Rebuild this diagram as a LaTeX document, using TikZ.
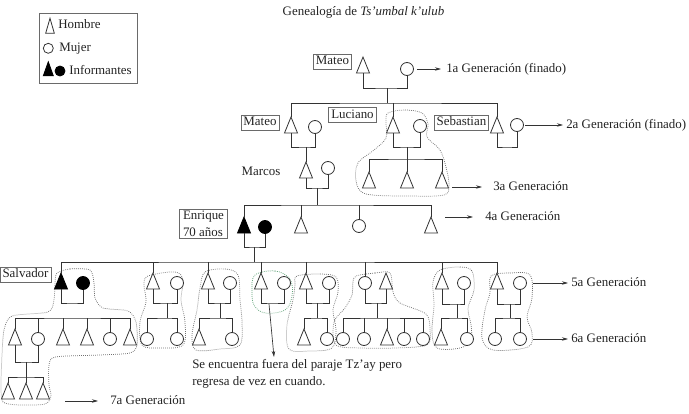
\documentclass[tikz,border=0pt]{standalone}
\usepackage{fontspec}
\setmainfont{Liberation Serif}
\usetikzlibrary{arrows.meta}
\makeatletter
\pgfdeclareshape{tri}{%
  \inheritsavedanchors[from=rectangle]%
  \inheritanchorborder[from=rectangle]%
  \inheritanchor[from=rectangle]{center}%
  \inheritanchor[from=rectangle]{north}%
  \inheritanchor[from=rectangle]{south}%
  \inheritanchor[from=rectangle]{east}%
  \inheritanchor[from=rectangle]{west}%
  \inheritanchor[from=rectangle]{north east}%
  \inheritanchor[from=rectangle]{north west}%
  \inheritanchor[from=rectangle]{south east}%
  \inheritanchor[from=rectangle]{south west}%
  \backgroundpath{%
    \southwest \edef\tri@xa{\the\pgf@x}\edef\tri@ya{\the\pgf@y}%
    \northeast \edef\tri@xb{\the\pgf@x}\edef\tri@yb{\the\pgf@y}%
    \pgf@xc=\tri@xa \advance\pgf@xc by \tri@xb \pgf@xc=.5\pgf@xc
    \edef\tri@xc{\the\pgf@xc}%
    \pgfpathmoveto{\pgfqpoint{\tri@xa}{\tri@ya}}%
    \pgfpathlineto{\pgfqpoint{\tri@xb}{\tri@ya}}%
    \pgfpathlineto{\pgfqpoint{\tri@xc}{\tri@yb}}%
    \pgfpathclose
  }%
}
\makeatother
\definecolor{linec}{HTML}{333333}
\definecolor{textc}{HTML}{222222}
\definecolor{boxc}{HTML}{6A6A6A}
\definecolor{dotc}{HTML}{707070}
\definecolor{greenc}{HTML}{5FA277}
\tikzset{
  ln/.style={draw=linec, line width=0.6pt},
  man/.style={shape=tri, draw=linec, line width=0.6pt, fill=white, inner sep=0pt, outer sep=0pt, minimum width=9.75pt, minimum height=12pt},
  woman/.style={shape=circle, draw=linec, line width=0.6pt, fill=white, inner sep=0pt, outer sep=0pt, minimum size=9.75pt},
  infm/.style={fill=black, draw=black},
  namebox/.style={draw=boxc, line width=0.5pt, inner xsep=1.9pt, inner ysep=0pt, minimum height=11.25pt, text height=7pt, text depth=2pt, text=textc, font=\fontsize{9.7}{12}\selectfont},
  lbl/.style={inner sep=0pt, text=textc, font=\fontsize{9.7}{12}\selectfont, text height=7pt, text depth=2pt},
  notetext/.style={inner sep=0pt, text=textc, font=\fontsize{9.7}{12.75}\selectfont, align=left},
  blob/.style={draw=dotc, line width=0.55pt, dash pattern=on 0.6pt off 0.9pt},
  gblob/.style={blob, draw=greenc},
  arr/.style={draw=linec, line width=0.5pt, -{Stealth[length=4.5pt,width=2.6pt]}},
}
\begin{document}
\begin{tikzpicture}[x=0.75pt, y=-0.75pt]
\useasboundingbox (0,0) rectangle (689,414);

% ---------- dotted groupings ----------
\draw[blob] plot[smooth cycle, tension=0.55] coordinates {(388,113) (405,110) (422,113) (428,124) (427,137) (440,150) (446,167) (449,185) (444,195) (410,196) (366,194) (356,181) (358,163) (374,150) (386,138) (386,122)};
\draw[blob] plot[smooth cycle, tension=0.45] coordinates {(57,273) (70,269) (90,270) (94,283) (95,298) (103,308) (128,311) (136,322) (137,345) (130,353) (100,355) (55,357) (49,366) (49,385) (51,396) (45,404) (20,405) (3,402) (1,385) (2,355) (4,330) (12,316) (48,312) (54,300) (55,283)};
\draw[blob] plot[smooth cycle, tension=0.55] coordinates {(148,276) (175,272) (183,280) (181,300) (185,322) (183,345) (160,348) (142,345) (140,322) (146,302) (144,285)};
\draw[blob] plot[smooth cycle, tension=0.55] coordinates {(205,272) (225,269) (238,275) (240,300) (242,322) (240,345) (220,349) (196,350) (192,335) (197,310) (200,288)};
\draw[gblob] plot[smooth cycle, tension=0.6] coordinates {(255,275) (275,271) (290,279) (292,296) (285,310) (265,313) (254,305) (252,290)};
\draw[blob] plot[smooth cycle, tension=0.55] coordinates {(297,276) (320,274) (336,277) (338,292) (333,310) (336,330) (332,348) (310,351) (289,349) (287,325) (293,300) (295,285)};
\draw[blob] plot[smooth cycle, tension=0.5] coordinates {(356,276) (375,273) (390,273) (393,292) (400,303) (426,314) (430,330) (427,345) (395,348) (363,348) (336,345) (334,322) (345,308) (352,295) (353,282)};
\draw[blob] plot[smooth cycle, tension=0.55] coordinates {(440,270) (460,267) (472,271) (474,290) (468,308) (471,325) (471,340) (460,348) (437,348) (432,332) (434,305) (433,282)};
\draw[blob] plot[smooth cycle, tension=0.55] coordinates {(491,276) (510,273) (530,275) (532,298) (527,317) (532,333) (528,347) (493,350) (482,338) (485,310) (490,293)};

% ---------- title ----------
\node[lbl] (title) at (363.5,12.5) {Genealogía de \textit{Ts’umbal k’ulub}};

% ---------- legend ----------
\node[draw=boxc, line width=0.5pt, minimum width=73.5pt, minimum height=52.5pt, inner sep=0pt] (leg) at (88,48.3) {};
\node[man, minimum width=6.5pt, minimum height=11.25pt] (lm) at (50,25.8) {};
\node[lbl, anchor=west] (lmt) at (58,25.5) {Hombre};
\node[woman, minimum size=7.5pt] (lw) at (48.3,48.3) {};
\node[lbl, anchor=west] (lwt) at (59,48.3) {Mujer};
\node[man, infm, minimum width=7.5pt, minimum height=10.5pt] (li) at (48.3,68.8) {};
\node[woman, infm, minimum size=7.5pt] (lc) at (60,71) {};
\node[lbl, anchor=west] (lit) at (69,71.5) {Informantes};

% ---------- generation 1 ----------
\node[man] (m1) at (363,65) {};
\node[woman] (w1) at (407,69) {};
\node[namebox] (bm1) at (332.5,61.5) {Mateo};
\coordinate (c1) at (387,88);
\coordinate (s1) at (387,103);
\draw[ln] (m1.south) |- (c1) -| (w1.south);
\draw[ln] (c1) -- (s1);
\node[lbl, anchor=west] (g1) at (446,69) {1a Generación (finado)};
\draw[arr, shorten <=2.6pt, shorten >=3.75pt] (w1.east) -- (g1.west);

% ---------- generation 2 ----------
\node[man] (m2) at (291,125) {};
\node[woman] (w2) at (315,127) {};
\node[namebox] (bm2) at (260,122.5) {Mateo};
\node[man] (lu) at (393,125) {};
\node[woman] (wl) at (420,126) {};
\node[namebox] (blu) at (352.5,115) {Luciano};
\node[man] (se) at (497,125) {};
\node[woman] (ws) at (517,125) {};
\node[namebox] (bse) at (461.5,122.5) {Sebastian};
\draw[ln] (m2.north) |- (s1) -| (se.north);
\draw[ln] (lu.north) -- (lu.north |- s1);
\coordinate (c2) at (306,147);
\coordinate (c3) at (407,147);
\coordinate (c3b) at (507,147);
\draw[ln] (m2.south) |- (c2) -| (w2.south);
\draw[ln] (lu.south) |- (c3) -| (wl.south);
\draw[ln] (se.south) |- (c3b) -| (ws.south);
\node[lbl, anchor=west] (g2) at (566,125) {2a Generación (finado)};
\draw[arr, shorten <=1.1pt, shorten >=2.25pt] (ws.east) -- (g2.west);

% ---------- generation 3 ----------
\node[man] (ma) at (306,170) {};
\node[woman] (wm) at (328,168) {};
\node[lbl] (tma) at (261,172) {Marcos};
\draw[ln] (c2) -- (ma.north);
\coordinate (c4) at (317,188);
\coordinate (s4) at (317,205);
\draw[ln] (ma.south) |- (c4) -| (wm.south);
\draw[ln] (c4) -- (s4);
\coordinate (s3) at (407,159);
\draw[ln] (c3) -- (s3);
\node[man] (l1) at (369,180) {};
\node[man] (l2) at (407,180) {};
\node[man] (l3) at (442,180) {};
\draw[ln] (l1.north) |- (s3) -| (l3.north);
\draw[ln] (l2.north) -- (s3);
\coordinate (a3) at (452,187);
\node[lbl, anchor=west] (g3) at (493,187) {3a Generación};
\draw[arr, shorten >=8.25pt] (a3) -- (g3.west);

% ---------- generation 4 ----------
\node[man, infm] (en) at (244,225) {};
\node[woman, infm] (we) at (265,227) {};
\node[draw=boxc, line width=0.5pt, inner xsep=2.5pt, inner ysep=1.5pt, align=left, text=textc, font=\fontsize{9.7}{12.5}\selectfont] (ben) at (203.5,224) {Enrique\\70 años};
\node[man] (g4a) at (301,225) {};
\node[woman] (g4b) at (359,226) {};
\node[man] (g4c) at (431,225) {};
\draw[ln] (en.north) |- (s4) -| (g4c.north);
\draw[ln] (g4a.north) -- (g4a.north |- s4);
\draw[ln] (g4b.north) -- (g4b.north |- s4);
\coordinate (c5) at (254,247);
\coordinate (s5) at (254,262);
\draw[ln] (en.south) |- (c5) -| (we.south);
\draw[ln] (c5) -- (s5);
\coordinate (a4) at (445,217);
\node[lbl, anchor=west] (g4) at (485,217) {4a Generación};
\draw[arr, shorten >=9pt] (a4) -- (g4.west);

% ---------- generation 5 ----------
\node[man, infm] (sa) at (61,281) {};
\node[woman, infm] (saw) at (83,283) {};
\node[namebox] (bsa) at (25.5,274.5) {Salvador};
\node[man] (f2) at (153,281) {};
\node[woman] (f2w) at (177,283) {};
\node[man] (f3) at (208,281) {};
\node[woman] (f3w) at (230,283) {};
\node[man] (f4) at (261,281) {};
\node[woman] (f4w) at (284,283) {};
\node[man] (f5) at (306,281) {};
\node[woman] (f5w) at (329,283) {};
\node[woman] (f6w) at (365,283) {};
\node[man] (f6) at (386,281) {};
\node[man] (f7) at (442,281) {};
\node[woman] (f7w) at (464,283) {};
\node[man] (f8) at (497,281) {};
\node[woman] (f8w) at (520,283) {};
\draw[ln] (sa.north) |- (s5) -| (f8.north);
\foreach \n in {f2,f3,f4,f5,f6w,f7}{\draw[ln] (\n.north) -- (\n.north |- s5);}
% couples
\coordinate (cs) at (72,303);
\coordinate (cf2) at (167,303);
\coordinate (cf3) at (220,303);
\coordinate (cf4) at (272,303);
\coordinate (cf5) at (317,303);
\coordinate (cf6) at (377,303);
\coordinate (cf7) at (457,304);
\coordinate (cf8) at (510,304);
\draw[ln] (sa.south) |- (cs) -| (saw.south);
\draw[ln] (f2.south) |- (cf2) -| (f2w.south);
\draw[ln] (f3.south) |- (cf3) -| (f3w.south);
\draw[ln] (f4.south) |- (cf4) -| (f4w.south);
\draw[ln] (f5.south) |- (cf5) -| (f5w.south);
\draw[ln] (f6w.south) |- (cf6) -| (f6.south);
\draw[ln] (f7.south) |- (cf7) -| (f7w.south);
\draw[ln] (f8.south) |- (cf8) -| (f8w.south);
\coordinate (a5) at (533,283);
\node[lbl, anchor=west] (g5) at (571,283) {5a Generación};
\draw[arr, shorten >=2.25pt] (a5) -- (g5.west);

% note on the green group
\coordinate (na) at (269,304);
\coordinate (nb) at (274,357);
\draw[arr] (na) -- (nb);
\node[notetext, anchor=north west] (note) at (192,359.5) {Se encuentra fuera del paraje Tz’ay pero\\regresa de vez en cuando.};

% ---------- generation 6 ----------
\node[man] (k1) at (15,337) {};
\node[woman] (k2) at (38,339) {};
\node[man] (k3) at (63,337) {};
\node[man] (k4) at (87,337) {};
\node[woman] (k5) at (110,339) {};
\node[man] (k6) at (130,337) {};
\coordinate (sk) at (72,318);
\draw[ln] (k1.north) |- (sk) -| (k6.north);
\foreach \n in {k2,k3,k4,k5}{\draw[ln] (\n.north) -- (\n.north |- sk);}

\coordinate (sf2) at (167,318);
\node[woman] (h21) at (147,339) {};
\node[woman] (h22) at (177,339) {};
\draw[ln] (cf2) -- (sf2);
\draw[ln] (h21.north) |- (sf2) -| (h22.north);

\coordinate (sf3) at (220,318);
\node[man] (h31) at (199,337) {};
\node[woman] (h32) at (232,339) {};
\draw[ln] (cf3) -- (sf3);
\draw[ln] (h31.north) |- (sf3) -| (h32.north);

\coordinate (sf5) at (317,318);
\node[man] (h51) at (304,337) {};
\node[woman] (h52) at (327,339) {};
\draw[ln] (cf5) -- (sf5);
\draw[ln] (h51.north) |- (sf5) -| (h52.north);

\coordinate (sf6) at (377,318);
\node[woman] (h61) at (343,339) {};
\node[woman] (h62) at (364,339) {};
\node[man] (h63) at (387,337) {};
\node[woman] (h64) at (404,339) {};
\node[woman] (h65) at (423,339) {};
\draw[ln] (cf6) -- (sf6);
\draw[ln] (h61.north) |- (sf6) -| (h65.north);
\foreach \n in {h62,h63,h64}{\draw[ln] (\n.north) -- (\n.north |- sf6);}

\coordinate (sf7) at (457,318);
\node[man] (h71) at (441,337) {};
\node[woman] (h72) at (467,339) {};
\draw[ln] (cf7) -- (sf7);
\draw[ln] (h71.north) |- (sf7) -| (h72.north);

\coordinate (sf8) at (510,318);
\node[woman] (h81) at (495,339) {};
\node[woman] (h82) at (520,339) {};
\draw[ln] (cf8) -- (sf8);
\draw[ln] (h81.north) |- (sf8) -| (h82.north);

\coordinate (a6) at (533,339);
\node[lbl, anchor=west] (g6) at (571,339) {6a Generación};
\draw[arr, shorten >=2.25pt] (a6) -- (g6.west);

% ---------- generation 7 ----------
\coordinate (ck1) at (26,362);
\coordinate (sk1) at (26,377);
\draw[ln] (k1.south) |- (ck1) -| (k2.south);
\draw[ln] (ck1) -- (sk1);
\node[man] (q1) at (8,391) {};
\node[man] (q2) at (26,391) {};
\node[man] (q3) at (43,391) {};
\draw[ln] (q1.north) |- (sk1) -| (q3.north);
\draw[ln] (q2.north) -- (sk1);
\coordinate (a7) at (65,401);
\node[lbl, anchor=west] (g7) at (110,401) {7a Generación};
\draw[arr, shorten >=9pt] (a7) -- (g7.west);
\end{tikzpicture}
\end{document}
